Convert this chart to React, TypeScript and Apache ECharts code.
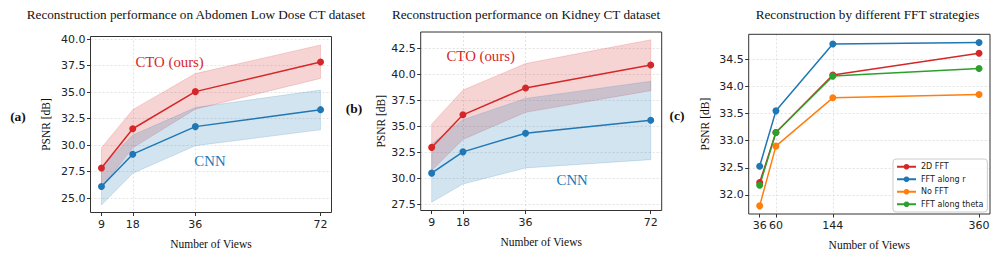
import React, { useEffect, useRef } from 'react';
import * as echarts from 'echarts';

// ---- data ----
const viewsAB = [9, 18, 36, 72];

const ctoA = [27.85, 31.55, 35.05, 37.85];
const ctoAUpper = [29.75, 33.35, 36.75, 39.45];
const ctoALower = [25.95, 29.75, 33.4, 36.3];
const cnnA = [26.1, 29.15, 31.75, 33.35];
const cnnAUpper = [27.9, 30.95, 33.55, 35.2];
const cnnALower = [24.35, 27.35, 29.95, 31.45];

const ctoB = [32.98, 36.12, 38.71, 40.92];
const ctoBUpper = [35.22, 38.5, 41.06, 43.35];
const ctoBLower = [30.75, 33.75, 36.36, 38.45];
const cnnB = [30.5, 32.55, 34.35, 35.6];
const cnnBUpper = [33.3, 35.65, 37.7, 39.35];
const cnnBLower = [27.7, 29.45, 31.0, 31.8];

const viewsC = [36, 60, 144, 360];
const fft2d = [32.23, 33.15, 34.21, 34.61];
const fftR = [32.53, 33.55, 34.78, 34.81];
const noFft = [31.8, 32.9, 33.79, 33.85];
const fftTheta = [32.18, 33.15, 34.19, 34.33];

const legendNames = ['2D FFT', 'FFT along r', 'No FFT', 'FFT along theta'];

const titles = [
  'Reconstruction performance on Abdomen Low Dose CT dataset',
  'Reconstruction performance on Kidney CT dataset',
  'Reconstruction by different FFT strategies',
];
const panelLabels = ['(a)', '(b)', '(c)'];

// annotation anchor points, in data units
const annotA = { cto: [28.6, 37.85], cnn: [40.2, 28.5] };
const annotB = { cto: [23.1, 41.76], cnn: [49.4, 29.84] };

// ---- styles ----
const RED = '#d62728';
const BLUE = '#1f77b4';
const ORANGE = '#ff7f0e';
const GREEN = '#2ca02c';
const SERIF = "'Liberation Serif', 'Times New Roman', serif";
const SANS = "'DejaVu Sans', sans-serif";

const pairs = (xs: number[], ys: number[]) => xs.map((x, i) => [x, ys[i]]);

const gridLine = { color: '#dcdcdc', type: [2, 2], width: 0.8 };

function xAxisFor(idx: number, min: number, max: number, ticks: number[]) {
  return {
    type: 'value',
    gridIndex: idx,
    min,
    max,
    name: 'Number of Views',
    nameLocation: 'middle',
    nameGap: 25,
    nameTextStyle: { fontFamily: SERIF, fontSize: 11.5, color: '#111' },
    axisLine: { show: false },
    axisTick: { show: true, customValues: ticks, length: 3.5, lineStyle: { color: '#333', width: 1 } },
    axisLabel: { customValues: ticks, margin: 6, fontFamily: SANS, fontSize: 11, color: '#222' },
    splitLine: { show: true, showMinLine: false, showMaxLine: false, lineStyle: gridLine },
  };
}

function yAxisFor(idx: number, min: number, max: number, step: number, gap: number, digits: number) {
  return {
    type: 'value',
    gridIndex: idx,
    min,
    max,
    minInterval: step,
    maxInterval: step,
    name: 'PSNR [dB]',
    nameLocation: 'middle',
    nameGap: gap,
    nameTextStyle: { fontFamily: SERIF, fontSize: 11.5, color: '#111' },
    axisLine: { show: false },
    axisTick: { show: true, length: 3.5, lineStyle: { color: '#333', width: 1 } },
    axisLabel: {
      showMinLabel: false,
      showMaxLabel: false,
      margin: 5,
      fontFamily: SANS,
      fontSize: 11,
      color: '#222',
      formatter: (v: number) => v.toFixed(digits),
    },
    splitLine: { show: true, showMinLine: false, showMaxLine: false, lineStyle: gridLine },
  };
}

function bandSeries(idx: number, key: string, xs: number[], lower: number[], upper: number[], color: string) {
  return {
    type: 'custom',
    name: key,
    xAxisIndex: idx,
    yAxisIndex: idx,
    silent: true,
    z: 2,
    data: xs.map((x, i) => [x, lower[i], upper[i]]),
    encode: { x: 0, y: [1, 2] },
    renderItem: (params: any, api: any) => {
      if (params.dataIndex !== 0) return { type: 'group', children: [] };
      const top = xs.map((x, i) => api.coord([x, upper[i]]));
      const bottom = xs.map((x, i) => api.coord([x, lower[i]])).reverse();
      return {
        type: 'polygon',
        shape: { points: top.concat(bottom) },
        style: { fill: color, opacity: 1, fillOpacity: 0.2, stroke: color, strokeOpacity: 0.22, lineWidth: 0.8 },
      };
    },
  };
}

function meanSeries(idx: number, name: string, xs: number[], ys: number[], color: string, annot?: { text: string; at: number[] }) {
  const s: any = {
    type: 'line',
    name,
    xAxisIndex: idx,
    yAxisIndex: idx,
    data: pairs(xs, ys),
    symbol: 'circle',
    symbolSize: 7,
    z: 5,
    itemStyle: { color },
    lineStyle: { color, width: 1.5 },
  };
  if (annot) {
    s.markPoint = {
      silent: true,
      symbol: 'circle',
      symbolSize: 0,
      data: [{ coord: annot.at, value: annot.text }],
      label: {
        show: true,
        position: 'inside',
        formatter: annot.text,
        fontFamily: SERIF,
        fontSize: 14.8,
        color,
      },
    };
  }
  return s;
}

export default function App() {
  const ref = useRef<HTMLDivElement>(null);

  useEffect(() => {
    if (!ref.current) return;
    const chart = echarts.init(ref.current, undefined, { renderer: 'svg' });

    const gridStyle = { show: true, z: 1, borderColor: '#333333', borderWidth: 1, backgroundColor: 'transparent' };

    const option: any = {
      animation: false,
      backgroundColor: '#fff',
      grid: [
        { left: 90.5, top: 36.5, width: 241, height: 176, ...gridStyle },
        { left: 420.7, top: 32, width: 241, height: 178.5, ...gridStyle },
        { left: 748.7, top: 34.3, width: 241.3, height: 179.7, ...gridStyle },
      ],
      xAxis: [
        xAxisFor(0, 5.85, 75.15, viewsAB),
        xAxisFor(1, 5.85, 75.15, viewsAB),
        xAxisFor(2, 19.8, 376.2, viewsC),
      ],
      yAxis: [
        yAxisFor(0, 23.65, 40.25, 2.5, 39, 1),
        yAxisFor(1, 26.9, 44.1, 2.5, 33, 1),
        yAxisFor(2, 31.65, 34.96, 0.5, 38, 1),
      ],
      legend: {
        data: legendNames,
        orient: 'vertical',
        left: 893,
        top: 159,
        itemWidth: 19,
        itemHeight: 7,
        itemGap: 3,
        padding: [3, 4, 3, 3],
        borderColor: '#cccccc',
        borderWidth: 1,
        borderRadius: 3,
        backgroundColor: 'rgba(255,255,255,0.85)',
        textStyle: { fontFamily: SANS, fontSize: 8, color: '#222', lineHeight: 9.5 },
      },
      graphic: [
        ...titles.map((t, i) => ({
          type: 'text',
          x: [196, 526, 867.5][i],
          y: 14,
          style: { text: t, fontFamily: SERIF, fontSize: 13.2, fill: '#111', align: 'center', verticalAlign: 'middle' },
        })),
        ...panelLabels.map((t, i) => ({
          type: 'text',
          x: [18, 354, 677][i],
          y: [116, 108, 115][i],
          style: { text: t, fontFamily: SERIF, fontSize: 13.5, fontWeight: 'bold', fill: '#111', align: 'center', verticalAlign: 'middle' },
        })),
      ],
      series: [
        bandSeries(0, 'ctoA-band', viewsAB, ctoALower, ctoAUpper, RED),
        bandSeries(0, 'cnnA-band', viewsAB, cnnALower, cnnAUpper, BLUE),
        meanSeries(0, 'CTO-a', viewsAB, ctoA, RED, { text: 'CTO (ours)', at: annotA.cto }),
        meanSeries(0, 'CNN-a', viewsAB, cnnA, BLUE, { text: 'CNN', at: annotA.cnn }),
        bandSeries(1, 'ctoB-band', viewsAB, ctoBLower, ctoBUpper, RED),
        bandSeries(1, 'cnnB-band', viewsAB, cnnBLower, cnnBUpper, BLUE),
        meanSeries(1, 'CTO-b', viewsAB, ctoB, RED, { text: 'CTO (ours)', at: annotB.cto }),
        meanSeries(1, 'CNN-b', viewsAB, cnnB, BLUE, { text: 'CNN', at: annotB.cnn }),
        meanSeries(2, legendNames[0], viewsC, fft2d, RED),
        meanSeries(2, legendNames[1], viewsC, fftR, BLUE),
        meanSeries(2, legendNames[2], viewsC, noFft, ORANGE),
        meanSeries(2, legendNames[3], viewsC, fftTheta, GREEN),
      ],
    };

    chart.setOption(option);
    return () => chart.dispose();
  }, []);

  return (
    <div
      ref={ref}
      style={{ position: 'fixed', left: 0, top: 0, width: 997, height: 258, background: '#fff' }}
    />
  );
}
